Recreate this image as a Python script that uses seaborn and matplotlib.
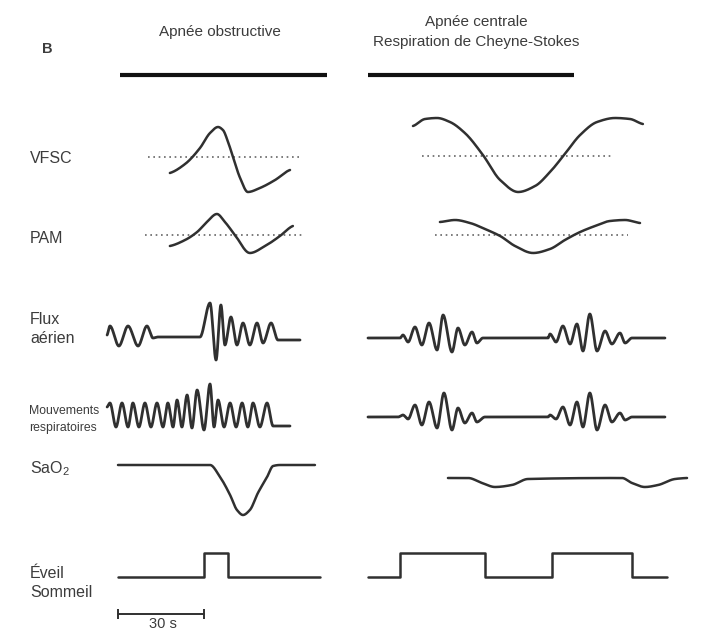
import numpy as np
import matplotlib
matplotlib.use("Agg")
import matplotlib.pyplot as plt
import seaborn as sns

# ------------------------------------------------------------------
# Data (time in s, signal in arbitrary units,
# positive = upwards relative to each trace's resting level)
# ------------------------------------------------------------------
apnea_obstructive = [0.7, 72.9]          # thick bar, apnée obstructive
apnea_central = [87.2, 159.1]            # thick bar, apnée centrale

# VFSC
vfsc_obs_t = [18.1, 23.4, 28.6, 32.1, 34.9, 36.6, 38.4, 40.1, 42.6, 45.3, 49.5, 54.8, 60.0]
vfsc_obs_v = [-16, -7, 9, 24, 30, 27, 15, 0, -21, -35, -31, -23, -13]
vfsc_obs_ref = [10.5, 64.2]
vfsc_cen_t = [102.9, 107.1, 111.3, 115.8, 121.0, 127.3, 133.3, 139.6, 145.5, 150.7,
              155.6, 161.2, 167.1, 173.4, 178.6, 183.1]
vfsc_cen_v = [30, 37, 38, 34, 23, 1, -24, -36, -30, -16, 1, 21, 34, 38, 37, 32]
vfsc_cen_ref = [106.0, 172.3]

# PAM
pam_obs_t = [18.1, 23.4, 27.6, 31.0, 34.5, 37.3, 40.8, 46.0, 51.3, 56.5, 61.0]
pam_obs_v = [-11, -5, 3, 13, 21, 13, 0, -18, -11, -1, 9]
pam_obs_ref = [9.4, 64.2]
pam_cen_t = [112.3, 117.6, 122.8, 128.0, 133.3, 138.5, 144.8, 150.7, 155.9, 161.2,
             166.4, 171.6, 176.9, 182.1]
pam_cen_v = [13, 15, 12, 6, -1, -11, -18, -14, -5, 3, 9, 14, 15, 12]
pam_cen_ref = [110.6, 177.9]

# Flux aérien
flux_obs_t = [-3.8, -2.8, 0.3, 3.5, 7.0, 10.1, 12.2, 14.0, 28.6, 32.1, 34.2, 35.9, 37.3,
              39.4, 41.5, 43.6, 46.0, 48.5, 50.6, 53.4, 55.8, 63.5]
flux_obs_v = [2, 11, -9, 11, -9, 11, -1, 0, 0, 34, -23, 32, -8, 20, -8, 14, -8, 14, -6,
              14, -3, -3]
flux_cen_t = [87.2, 98.4, 99.4, 101.2, 103.6, 106.0, 108.5, 111.3, 113.4, 116.5, 118.6,
              121.0, 123.5, 125.2, 127.3, 150.0, 150.7, 152.8, 155.2, 157.7, 160.1,
              162.2, 164.6, 167.1, 169.9, 172.3, 175.1, 176.9, 179.3, 190.8]
flux_cen_v = [0, 0, 3, -4, 11, -7, 15, -12, 23, -14, 10, -7, 6, -5, 0, 0, 4, -4, 12, -6,
              14, -13, 24, -13, 7, -6, 5, -5, 0, 0]

# Mouvements respiratoires
mvt_obs_t = [-3.8, -2.8, -0.7, 1.4, 3.5, 5.2, 7.3, 9.4, 11.5, 13.6, 15.7, 17.4, 19.2,
             20.6, 22.3, 24.1, 25.8, 27.6, 30.0, 32.1, 33.5, 34.9, 37.0, 39.1, 41.2,
             43.3, 45.3, 47.1, 49.5, 52.0, 54.1, 60.0]
mvt_obs_v = [8, 12, -12, 12, -12, 12, -12, 12, -12, 12, -12, 12, -12, 15, -12, 20, -13,
             25, -15, 31, -12, 15, -12, 12, -12, 12, -12, 12, -12, 12, -11, -11]
mvt_cen_t = [87.2, 97.7, 99.4, 101.2, 103.6, 106.0, 108.5, 111.3, 113.7, 116.5, 118.6,
             121.0, 123.5, 125.2, 128.0, 150.0, 150.7, 152.8, 155.2, 157.7, 160.1,
             162.2, 164.6, 167.1, 169.9, 172.3, 175.1, 176.9, 179.3, 190.8]
mvt_cen_v = [0, 0, 2, -2, 12, -8, 15, -11, 24, -13, 9, -6, 4, -5, 0, 0, 2, -2, 10, -8,
             15, -10, 24, -13, 12, -5, 4, -3, 0, 0]

# SaO2
sao2_obs_t = [0.0, 32.1, 35.6, 39.1, 41.5, 43.6, 46.0, 48.8, 52.0, 54.1, 56.5, 68.7]
sao2_obs_v = [0, 0, -12, -30, -45, -50, -45, -28, -12, -1, 0, 0]
sao2_cen_t = [115.1, 122.1, 127.0, 131.5, 137.4, 143.0, 175.8, 179.3, 183.8, 188.4,
              194.3, 198.5]
sao2_cen_v = [0, 0, -5, -9, -7, -1, 0, -5, -9, -7, -1, 0]

# Éveil (1) / Sommeil (0)
wake_obs_t = [0.0, 30.0, 38.4, 70.5]
wake_obs_s = [0, 1, 0, 0]
wake_cen_t = [87.2, 98.4, 128.0, 151.4, 179.3, 191.5]
wake_cen_s = [0, 1, 0, 1, 0, 0]

scale_bar = [0, 30]
scale_label = "30 s"

row_labels = ["VFSC", "PAM", "Flux", "aérien", "Mouvements", "respiratoires",
              "SaO$_\\mathregular{2}$", "Éveil", "Sommeil"]

# ------------------------------------------------------------------
W, H = 715, 633
PX_PER_S = 86 / 30.0
X0 = 118


def px2t(px):
    return (px - X0) / PX_PER_S


def smooth(x, y, per_seg=24):
    """Shape-preserving cubic (PCHIP) rendering through the read points."""
    x = np.asarray(x, float)
    y = np.asarray(y, float)
    h = np.diff(x)
    d = np.diff(y) / h
    m = np.zeros_like(y)
    for k in range(1, len(x) - 1):
        if d[k - 1] * d[k] > 0:
            w1 = 2 * h[k] + h[k - 1]
            w2 = h[k] + 2 * h[k - 1]
            m[k] = (w1 + w2) / (w1 / d[k - 1] + w2 / d[k])
    m[0] = 0.5 * d[0]
    m[-1] = 0.5 * d[-1]
    xs, ys = [], []
    s = np.linspace(0, 1, per_seg, endpoint=False)
    h00 = 2 * s**3 - 3 * s**2 + 1
    h10 = s**3 - 2 * s**2 + s
    h01 = -2 * s**3 + 3 * s**2
    h11 = s**3 - s**2
    for k in range(len(h)):
        xs.append(x[k] + s * h[k])
        ys.append(h00 * y[k] + h10 * h[k] * m[k] + h01 * y[k + 1] + h11 * h[k] * m[k + 1])
    xs.append([x[-1]])
    ys.append([y[-1]])
    return np.concatenate(xs), np.concatenate(ys)


sns.set_theme(style="white")
plt.rcParams['font.family'] = ['Liberation Sans', 'DejaVu Sans']
plt.rcParams['mathtext.fontset'] = 'custom'
plt.rcParams['mathtext.rm'] = 'Liberation Sans'

fig = plt.figure(figsize=(W / 100, H / 100), dpi=100, facecolor='white')
ax = fig.add_axes([0, 0, 1, 1])
ax.set_xlim(px2t(0), px2t(W))
ax.set_ylim(H, 0)
ax.axis('off')

TRACE = '#303030'
LW = 1.8


def trace(t, v, base, lw=LW, color=TRACE):
    xs, ys = smooth(t, v)
    sns.lineplot(x=xs, y=base - ys, ax=ax, color=color, lw=lw, sort=False,
                 estimator=None, legend=False, solid_joinstyle='round')


def hline(span, y, **kw):
    sns.lineplot(x=span, y=[y, y], ax=ax, sort=False, estimator=None, legend=False, **kw)


# thick apnea bars
hline(apnea_obstructive, 75, color='#111111', lw=3.0, solid_capstyle='butt')
hline(apnea_central, 75, color='#111111', lw=3.0, solid_capstyle='butt')

# dotted reference lines
dot = dict(color='#666666', lw=1.2, linestyle=(0, (1, 2.2)))
hline(vfsc_obs_ref, 157, **dot)
hline(vfsc_cen_ref, 156, **dot)
hline(pam_obs_ref, 235, **dot)
hline(pam_cen_ref, 235, **dot)

# traces
trace(vfsc_obs_t, vfsc_obs_v, 157)
trace(vfsc_cen_t, vfsc_cen_v, 156)
trace(pam_obs_t, pam_obs_v, 235)
trace(pam_cen_t, pam_cen_v, 235)
trace(flux_obs_t, flux_obs_v, 337, lw=2.0)
trace(flux_cen_t, flux_cen_v, 338, lw=2.0)
trace(mvt_obs_t, mvt_obs_v, 415, lw=2.0)
trace(mvt_cen_t, mvt_cen_v, 417, lw=2.0)
trace(sao2_obs_t, sao2_obs_v, 465)
trace(sao2_cen_t, sao2_cen_v, 478)

# wake / sleep steps
for tt, ss in [(wake_obs_t, wake_obs_s), (wake_cen_t, wake_cen_s)]:
    sns.lineplot(x=tt, y=577 - 24 * np.asarray(ss), ax=ax, color=TRACE, lw=1.8,
                 drawstyle='steps-post', sort=False, estimator=None, legend=False)

# scale bar
sns.lineplot(x=scale_bar, y=[614, 614], ax=ax, color=TRACE, lw=1.4, marker='|',
             markersize=7, markeredgewidth=1.4, markeredgecolor=TRACE, sort=False,
             estimator=None, legend=False)

# ------------------------------------------------------------------
# texts (pixel layout -> figure fraction)
TXT = '#3c3c3c'


def ftext(px, py, s, ha='left', size=11.5, **kw):
    fig.text(px / W, 1 - py / H, s, ha=ha, va='baseline', fontsize=size, color=TXT, **kw)


ftext(42, 53, "B", size=10.5, fontweight='bold')
ftext(220, 36, "Apnée obstructive", ha='center', size=11)
ftext(476, 26, "Apnée centrale", ha='center', size=11)
ftext(476, 46, "Respiration de Cheyne-Stokes", ha='center', size=11)

ftext(30, 163, row_labels[0])
ftext(30, 243, row_labels[1])
ftext(30, 324, row_labels[2])
ftext(30, 343, row_labels[3])
ftext(29, 414, row_labels[4], size=8.8)
ftext(29, 431, row_labels[5], size=8.8)
ftext(30, 473, row_labels[6])
ftext(30, 578, row_labels[7])
ftext(30, 597, row_labels[8])
ftext(163, 628, scale_label, ha='center', size=10.5)

fig.savefig("out.png", dpi=100, facecolor='white')
